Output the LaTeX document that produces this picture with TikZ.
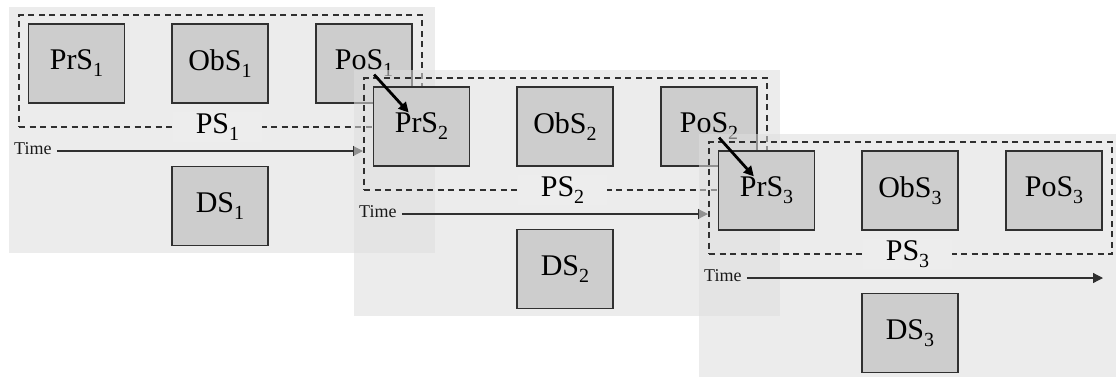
\documentclass[tikz,border=0pt]{standalone}
\usepackage{fontspec}
\setmainfont{Liberation Serif}
\usetikzlibrary{arrows.meta,calc}
\definecolor{panelc}{HTML}{DEDEDE}
\definecolor{boxc}{HTML}{CDCDCD}
\definecolor{edgec}{HTML}{303030}
\definecolor{labelc}{HTML}{EDEDED}
\newcommand\lsub[1]{\raisebox{-7pt}{\fontsize{20}{21}\selectfont #1}}
\tikzset{
  panel/.style={fill=panelc, fill opacity=0.56, draw=none},
  sbox/.style={draw=edgec, line width=1.4pt, fill=boxc, minimum width=96pt,
    minimum height=79pt, inner sep=0pt, font=\fontsize{30}{32}\selectfont},
  phase/.style={draw=edgec, line width=1.1pt, dash pattern=on 6pt off 4.5pt,
    minimum width=403pt, minimum height=112pt, inner sep=0pt},
  pslabel/.style={fill=labelc, minimum width=89pt, minimum height=30pt,
    inner sep=0pt, font=\fontsize{30}{32}\selectfont},
  timelbl/.style={font=\fontsize{18}{19}\selectfont, text=black!90, anchor=west, inner sep=0pt},
  timearrow/.style={draw=edgec, line width=1.2pt, -{Triangle[length=10pt,width=10pt]}},
  jump/.style={draw=black, line width=2.8pt, -{Triangle[length=10pt,width=10pt]}}
}
\begin{document}
\begin{tikzpicture}[x=1pt,y=-1pt]
\useasboundingbox (0,0) rectangle (1116,376);
\clip (0,0) rectangle (1116,376);
\foreach \i/\dx/\dy/\te in {1/0/0/363, 2/345/63/708, 3/690/127/1103}{
  \fill[panel] (9+\dx,7+\dy) rectangle (435+\dx,253+\dy);
  \node[phase] (phase\i) at (220.5+\dx,71+\dy) {};
  \node[sbox] (PrS\i) at (76.5+\dx,63.5+\dy) {PrS\lsub{\i}};
  \node[sbox] (ObS\i) at (220+\dx,63.5+\dy) {ObS\lsub{\i}};
  \node[sbox] (PoS\i) at (364+\dx,63.5+\dy) {PoS\lsub{\i}};
  \node[pslabel] (PS\i) at (217.5+\dx,127+\dy) {PS\lsub{\i}};
  \node[timelbl] (time\i) at (14+\dx,148.5+\dy) {Time};
  \coordinate (tend\i) at (\te,151+\dy);
  \draw[timearrow] ([xshift=5pt,yshift=-2.5pt]time\i.east) -- (tend\i);
  \node[sbox] (DS\i) at (220+\dx,206+\dy) {DS\lsub{\i}};
}
\draw[jump, shorten <=15pt, shorten >=19pt] (PoS1.center) -- (PrS2.center);
\draw[jump, shorten <=15pt, shorten >=19pt] (PoS2.center) -- (PrS3.center);
\end{tikzpicture}
\end{document}
